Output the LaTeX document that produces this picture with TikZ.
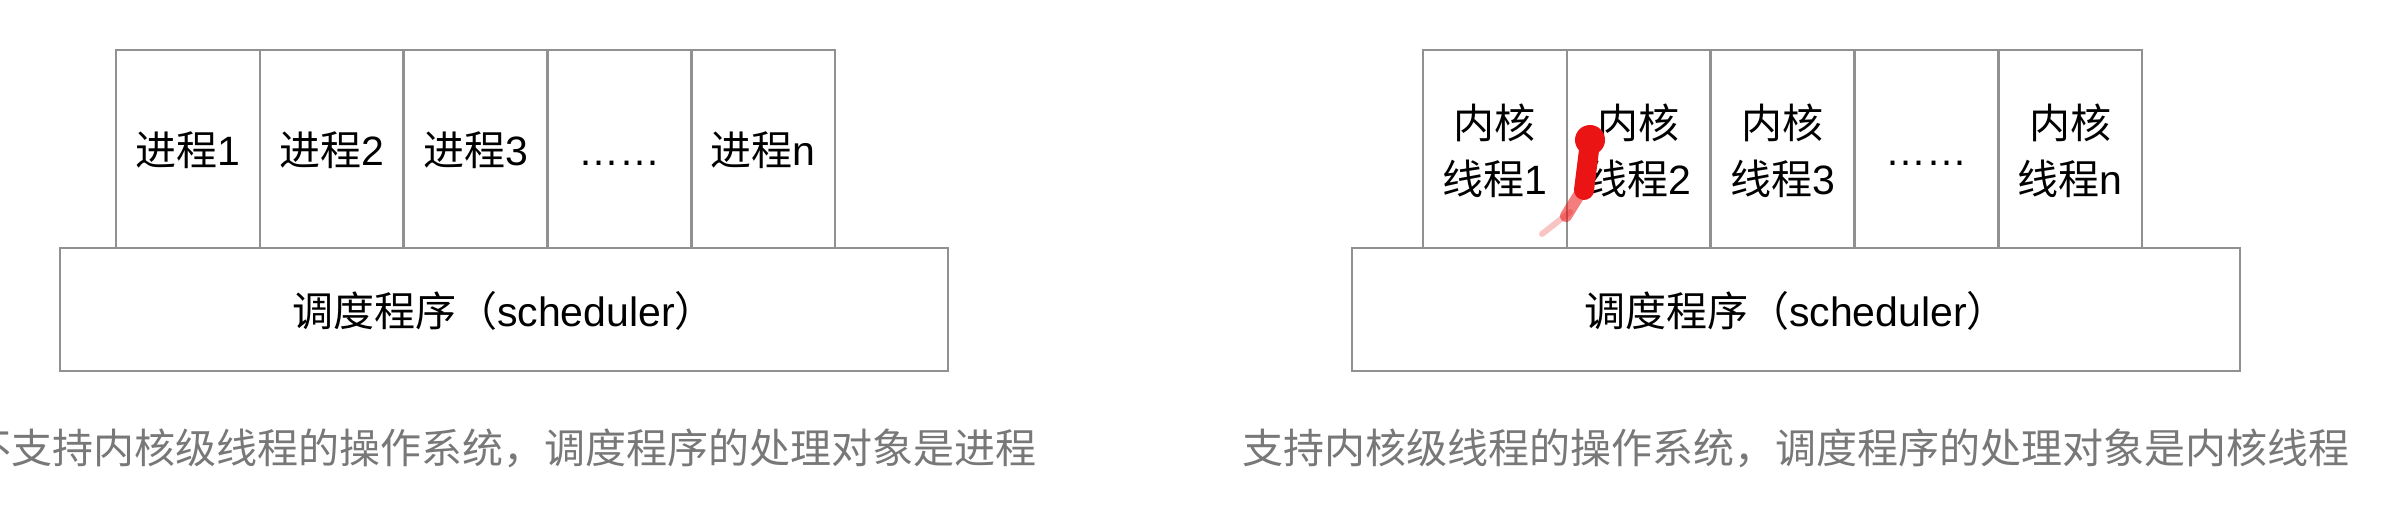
\documentclass[tikz,border=0pt]{standalone}
\usepackage{fontspec}
\setmainfont{Liberation Sans}
\newfontfamily\cjk{Noto Sans CJK SC}
\definecolor{linegray}{RGB}{145,145,145}
\definecolor{captext}{RGB}{120,120,120}
\definecolor{redmark}{RGB}{235,20,20}
\begin{document}
\begin{tikzpicture}[x=0.5pt,y=-0.5pt,
  box/.style={draw=linegray, line width=1.3pt, minimum width=71.9pt, minimum height=99pt, inner sep=0pt, outer sep=0pt},
  sched/.style={draw=linegray, line width=1.3pt, minimum width=444pt, minimum height=61.5pt, inner sep=0pt, outer sep=0pt},
  lbl/.style={anchor=base, inner sep=0pt, font=\fontsize{20.5pt}{27.5pt}\selectfont, text=black},
  captxt/.style={anchor=base, inner sep=0pt, font=\fontsize{20.5pt}{24pt}\selectfont\cjk, text=captext}]
\path[use as bounding box] (0,0) rectangle (2383,519);
\clip (0,0) rectangle (2383,519);
\fill[white] (0,0) rectangle (2383,519);

% left diagram
\foreach \i/\x in {1/187.9,2/331.7,3/475.5,4/619.3,5/763.1}
  \node[box] (pa\i) at (\x,149) {};
\node[sched] (schedl) at (504,309.5) {};
\node[lbl] (la1) at (pa1.center |- 0,165.6) {{\cjk 进程}1};
\node[lbl] (la2) at (pa2.center |- 0,165.6) {{\cjk 进程}2};
\node[lbl] (la3) at (pa3.center |- 0,165.6) {{\cjk 进程}3};
\node[lbl] (la4) at (pa4.center |- 0,165.6) {……};
\node[lbl] (la5) at (pa5.center |- 0,165.6) {{\cjk 进程}n};
\node[lbl] (ls) at (schedl.center |- 0,326) {{\cjk 调度程序（}scheduler{\cjk ）}};
\node[captxt] (capl) at (schedl.center |- 0,463) {不支持内核级线程的操作系统，调度程序的处理对象是进程};

% right diagram
\foreach \i/\x in {1/1494.9,2/1638.7,3/1782.5,4/1926.3,5/2070.1}
  \node[box] (pb\i) at (\x,149) {};
\node[sched] (schedr) at (1796,309.5) {};
\node[lbl] (rb1t) at (pb1.center |- 0,139) {{\cjk 内核}};
\node[lbl] (rb1b) at (pb1.center |- 0,194) {{\cjk 线程}1};
\node[lbl] (rb2t) at (pb2.center |- 0,139) {{\cjk 内核}};
\node[lbl] (rb2b) at (pb2.center |- 0,194) {{\cjk 线程}2};
\node[lbl] (rb3t) at (pb3.center |- 0,139) {{\cjk 内核}};
\node[lbl] (rb3b) at (pb3.center |- 0,194) {{\cjk 线程}3};
\node[lbl] (rb4) at (pb4.center |- 0,165.6) {……};
\node[lbl] (rb5t) at (pb5.center |- 0,139) {{\cjk 内核}};
\node[lbl] (rb5b) at (pb5.center |- 0,194) {{\cjk 线程}n};
\node[lbl] (rs) at (schedr.center |- 0,326) {{\cjk 调度程序（}scheduler{\cjk ）}};
\node[captxt] (capr) at (schedr.center |- 0,463) {支持内核级线程的操作系统，调度程序的处理对象是内核线程};

% red pointer mark
\draw[redmark, opacity=0.25, line width=3pt, line cap=round] (1570,212) -- (1542,234);
\draw[redmark, opacity=0.55, line width=6pt, line cap=round] (1582,190) -- (1566,216);
\draw[redmark, line width=10pt, line cap=round] (1590,142) -- (1584,190);
\fill[redmark] (1590,140) circle (7.5pt);
\end{tikzpicture}
\end{document}
